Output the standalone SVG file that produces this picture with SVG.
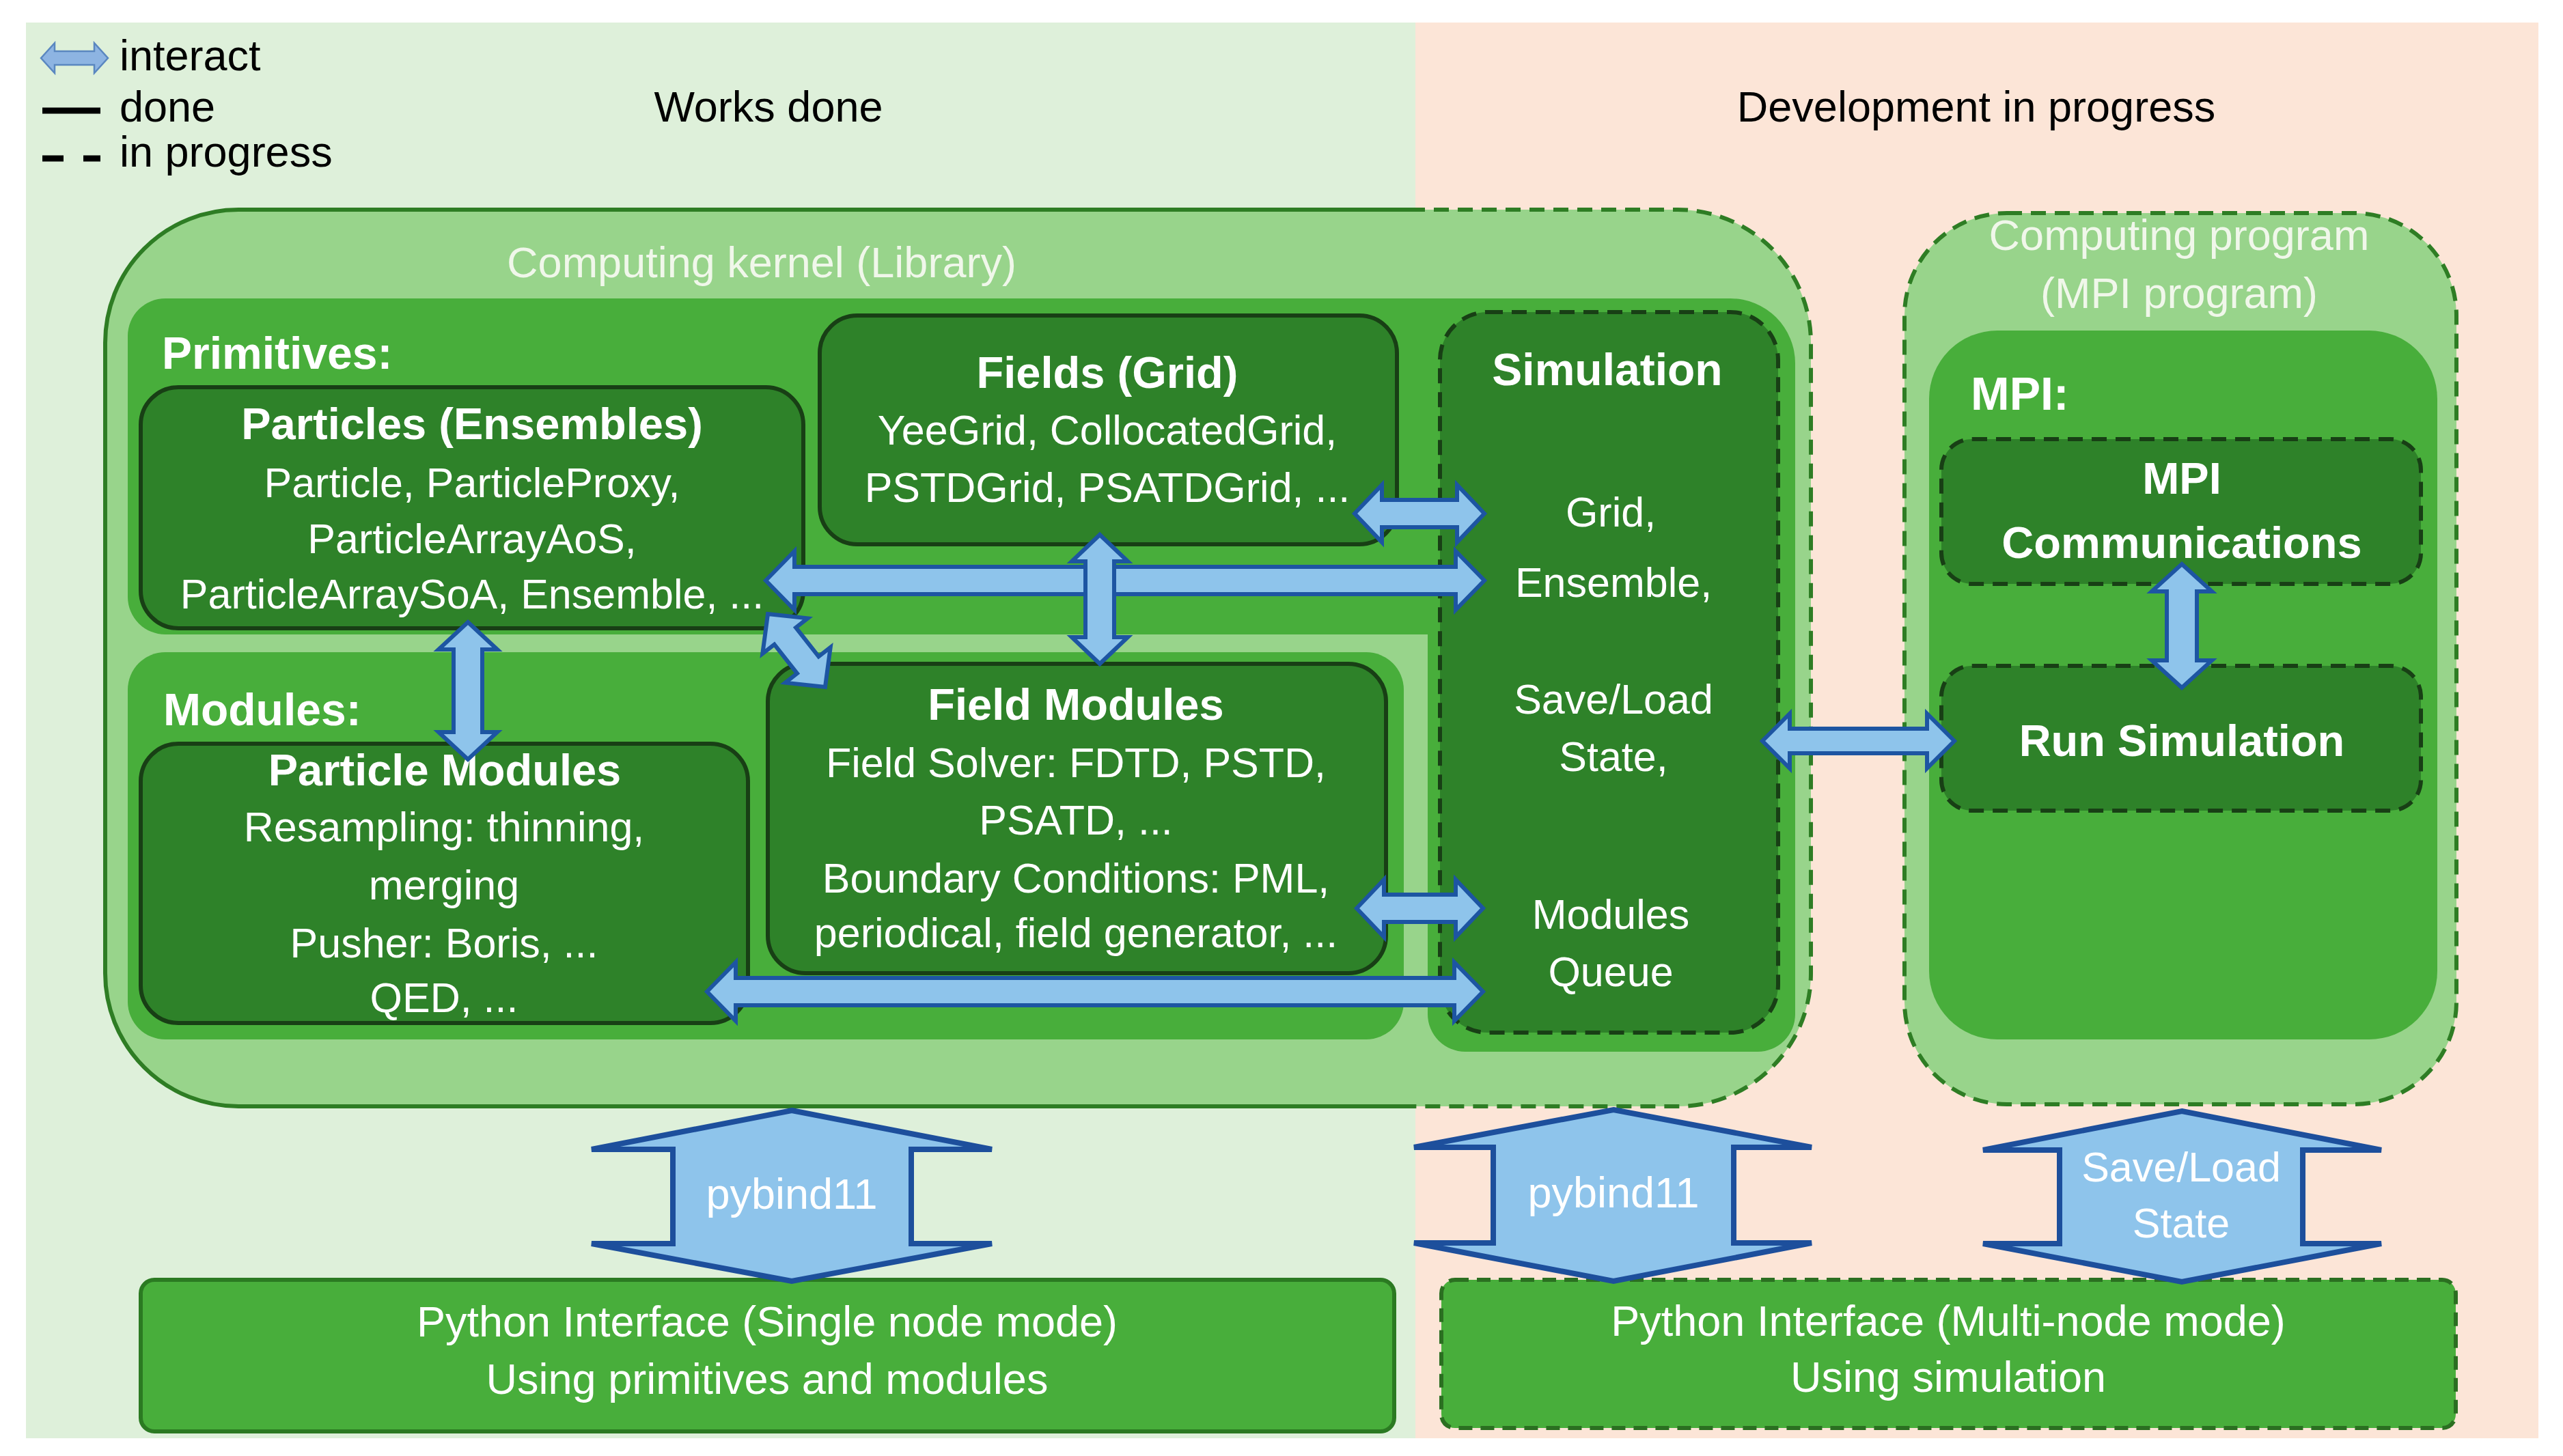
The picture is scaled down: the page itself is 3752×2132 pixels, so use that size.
<svg xmlns="http://www.w3.org/2000/svg" width="3752" height="2132" viewBox="0 0 3752 2132">
<defs>
<style>
.bgL{fill:#DEF0DA}
.bgR{fill:#FCE5D7}
.lg{fill:#98D48B}
.mg{fill:#48AE3B}
.box{fill:#2E8229;stroke:#183F15;stroke-width:6}
.dbox{fill:#2E8229;stroke:#183F15;stroke-width:6;stroke-dasharray:22 13}
.kline{fill:none;stroke:#2E7D24;stroke-width:6}
.kdash{fill:none;stroke:#2E7D24;stroke-width:6;stroke-dasharray:22 13}
.arr{fill:#8EC4EB;stroke:#1D55A2;stroke-width:6;stroke-linejoin:miter}
.big{fill:#8EC4EB;stroke:#1D4F9C;stroke-width:8;stroke-linejoin:miter}
text{font-family:'Liberation Sans',Arial,sans-serif}
.w{fill:#FFFFFF}
.pale{fill:#F0F7EA}
.k{fill:#000000}
.b{font-weight:bold}
.c{text-anchor:middle}
.s61{font-size:61px}
.s63{font-size:63px}
.s65{font-size:65px}
.s66{font-size:66px}
</style>
<clipPath id="clipL"><rect x="0" y="0" width="2072" height="2132"/></clipPath>
<clipPath id="clipR"><rect x="2072" y="0" width="1680" height="2132"/></clipPath>
</defs>

<g id="background">
<rect class="bgL" x="38" y="33" width="2034" height="2073"/>
<rect class="bgR" x="2072" y="33" width="1644" height="2073"/>
</g>

<g id="legend">
<path d="M60 85 L80 63 L80 75 L138 75 L138 63 L158 85 L138 107 L138 95 L80 95 L80 107 Z" fill="#8DB4E2" stroke="#5A87C0" stroke-width="2.5"/>
<text class="k s63" x="175" y="103">interact</text>
<line x1="62" y1="162" x2="147" y2="162" stroke="#000" stroke-width="9"/>
<text class="k s63" x="175" y="178">done</text>
<line x1="62" y1="232" x2="93" y2="232" stroke="#000" stroke-width="9"/>
<line x1="122" y1="232" x2="147" y2="232" stroke="#000" stroke-width="9"/>
<text class="k s63" x="175" y="244">in progress</text>
</g>

<g id="titles">
<text class="k s63 c" x="1125" y="178">Works done</text>
<text class="k s63 c" x="2893" y="178">Development in progress</text>
</g>

<g id="kernel">
<rect class="lg" x="154" y="307" width="2497" height="1313" rx="195" ry="195"/>
<rect class="kline" x="154" y="307" width="2497" height="1313" rx="195" ry="195" clip-path="url(#clipL)"/>
<rect class="kdash" x="154" y="307" width="2497" height="1313" rx="195" ry="195" clip-path="url(#clipR)"/>
<text class="pale s63 c" x="1115" y="406">Computing kernel (Library)</text>
</g>

<g id="primitives">
<path class="mg" d="M242 437 H2533 A95 95 0 0 1 2628 532 V1485 A55 55 0 0 1 2573 1540 H2145 A55 55 0 0 1 2090 1485 V929 H242 A55 55 0 0 1 187 874 V492 A55 55 0 0 1 242 437 Z"/>
<text class="w b s66" x="237" y="540">Primitives:</text>
</g>

<g id="modules">
<rect class="mg" x="187" y="955" width="1868" height="567" rx="55" ry="55"/>
<text class="w b s66" x="239" y="1062">Modules:</text>
</g>

<g id="particles">
<rect class="box" x="206" y="567" width="970" height="353" rx="55" ry="55"/>
<text class="w b s65 c" x="691" y="643">Particles (Ensembles)</text>
<text class="w s61 c" x="691" y="728">Particle, ParticleProxy,</text>
<text class="w s61 c" x="691" y="810">ParticleArrayAoS,</text>
<text class="w s61 c" x="691" y="891">ParticleArraySoA, Ensemble, ...</text>
</g>

<g id="fields">
<rect class="box" x="1200" y="462" width="845" height="335" rx="55" ry="55"/>
<text class="w b s65 c" x="1621" y="568">Fields (Grid)</text>
<text class="w s61 c" x="1621" y="651">YeeGrid, CollocatedGrid,</text>
<text class="w s61 c" x="1621" y="735">PSTDGrid, PSATDGrid, ...</text>
</g>

<g id="simulation">
<rect class="dbox" x="2108" y="457" width="495" height="1055" rx="70" ry="70"/>
<text class="w b s66 c" x="2353" y="564">Simulation</text>
<text class="w s61 c" x="2358" y="771">Grid,</text>
<text class="w s61 c" x="2362" y="874">Ensemble,</text>
<text class="w s61 c" x="2362" y="1045">Save/Load</text>
<text class="w s61 c" x="2362" y="1129">State,</text>
<text class="w s61 c" x="2358" y="1360">Modules</text>
<text class="w s61 c" x="2358" y="1444">Queue</text>
</g>

<g id="particle-modules">
<rect class="box" x="206" y="1089" width="889" height="409" rx="55" ry="55"/>
<text class="w b s65 c" x="651" y="1150">Particle Modules</text>
<text class="w s61 c" x="650" y="1232">Resampling: thinning,</text>
<text class="w s61 c" x="650" y="1317">merging</text>
<text class="w s61 c" x="650" y="1402">Pusher: Boris, ...</text>
<text class="w s61 c" x="650" y="1482">QED, ...</text>
</g>

<g id="field-modules">
<rect class="box" x="1124" y="972" width="905" height="453" rx="55" ry="55"/>
<text class="w b s65 c" x="1575" y="1054">Field Modules</text>
<text class="w s61 c" x="1575" y="1138">Field Solver: FDTD, PSTD,</text>
<text class="w s61 c" x="1575" y="1222">PSATD, ...</text>
<text class="w s61 c" x="1575" y="1307">Boundary Conditions: PML,</text>
<text class="w s61 c" x="1575" y="1387">periodical, field generator, ...</text>
</g>

<g id="computing-program">
<rect class="lg" x="2788" y="312" width="808" height="1305" rx="150" ry="150"/>
<rect class="kdash" x="2788" y="312" width="808" height="1305" rx="150" ry="150"/>
<text class="pale s63 c" x="3190" y="366">Computing program</text>
<text class="pale s63 c" x="3190" y="451">(MPI program)</text>
</g>

<g id="mpi">
<rect class="mg" x="2824" y="484" width="744" height="1038" rx="100" ry="100"/>
<text class="w b" style="font-size:68px" x="2885" y="600">MPI:</text>
</g>

<g id="mpi-communications">
<rect class="dbox" x="2842" y="643" width="702" height="212" rx="45" ry="45"/>
<text class="w b s65 c" x="3194" y="723">MPI</text>
<text class="w b s65 c" x="3194" y="817">Communications</text>
</g>

<g id="run-simulation">
<rect class="dbox" x="2842" y="975" width="702" height="212" rx="45" ry="45"/>
<text class="w b s65 c" x="3194" y="1107">Run Simulation</text>
</g>

<g id="python-single">
<rect x="206" y="1874" width="1835" height="222" rx="20" ry="20" fill="#48AE3B" stroke="#2B7A22" stroke-width="6"/>
<text class="w s63 c" x="1123" y="1957">Python Interface (Single node mode)</text>
<text class="w s63 c" x="1123" y="2041">Using primitives and modules</text>
</g>

<g id="python-multi">
<rect x="2110" y="1874" width="1485" height="217" rx="20" ry="20" fill="#48AE3B" stroke="#2B6F21" stroke-width="6" stroke-dasharray="20 12"/>
<text class="w s63 c" x="2852" y="1956">Python Interface (Multi-node mode)</text>
<text class="w s63 c" x="2852" y="2038">Using simulation</text>
</g>

<g id="connectors">
<!-- Fields <-> Simulation -->
<path class="arr" d="M1983 752 L2023 710 L2023 732 L2133 732 L2133 710 L2173 752 L2133 794 L2133 772 L2023 772 L2023 794 Z"/>
<!-- Particles <-> Simulation -->
<path class="arr" d="M1121 850 L1163 807 L1163 830 L2131 830 L2131 807 L2173 850 L2131 893 L2131 870 L1163 870 L1163 893 Z"/>
<!-- Fields <-> Field Modules -->
<path class="arr" d="M1610 783 L1651 822 L1631 822 L1631 933 L1651 933 L1610 972 L1569 933 L1589 933 L1589 822 L1569 822 Z"/>
<!-- Particles <-> Field Modules (diagonal) -->
<path class="arr" transform="translate(1166 952.5) rotate(51.9)" d="M-68 0 L-27 -42 L-27 -20 L27 -20 L27 -42 L68 0 L27 42 L27 20 L-27 20 L-27 42 Z"/>
<!-- Particles <-> Particle Modules -->
<path class="arr" d="M685 911 L728 951 L706 951 L706 1072 L728 1072 L685 1112 L642 1072 L664 1072 L664 951 L642 951 Z"/>
<!-- Field Modules <-> Simulation -->
<path class="arr" d="M1986 1330 L2026 1288 L2026 1310 L2131 1310 L2131 1288 L2171 1330 L2131 1372 L2131 1350 L2026 1350 L2026 1372 Z"/>
<!-- Particle Modules <-> Simulation -->
<path class="arr" d="M1035 1452 L1077 1409 L1077 1432 L2129 1432 L2129 1409 L2171 1452 L2129 1495 L2129 1472 L1077 1472 L1077 1495 Z"/>
<!-- Simulation <-> Run Simulation -->
<path class="arr" d="M2580 1085 L2620 1045 L2620 1067 L2821 1067 L2821 1045 L2861 1085 L2821 1125 L2821 1103 L2620 1103 L2620 1125 Z"/>
<!-- MPI Communications <-> Run Simulation -->
<path class="arr" d="M3194 826 L3238 866 L3216 866 L3216 967 L3238 967 L3194 1007 L3150 967 L3172 967 L3172 866 L3150 866 Z"/>
<!-- pybind11 (single node) -->
<path class="big" d="M1159 1626 L1452 1683 L1334 1683 L1334 1821 L1452 1821 L1159 1876 L866 1821 L985 1821 L985 1683 L866 1683 Z"/>
<text class="w s63 c" x="1159" y="1770">pybind11</text>
<!-- pybind11 (multi node) -->
<path class="big" d="M2362 1625 L2652 1680 L2538 1680 L2538 1820 L2652 1820 L2362 1876 L2070 1820 L2186 1820 L2186 1680 L2070 1680 Z"/>
<text class="w s63 c" x="2362" y="1768">pybind11</text>
<!-- Save/Load State -->
<path class="big" d="M3194 1627 L3486 1684 L3371 1684 L3371 1821 L3486 1821 L3194 1877 L2903 1821 L3015 1821 L3015 1684 L2903 1684 Z"/>
<text class="w s61 c" x="3193" y="1730">Save/Load</text>
<text class="w s61 c" x="3193" y="1812">State</text>
</g>
</svg>
